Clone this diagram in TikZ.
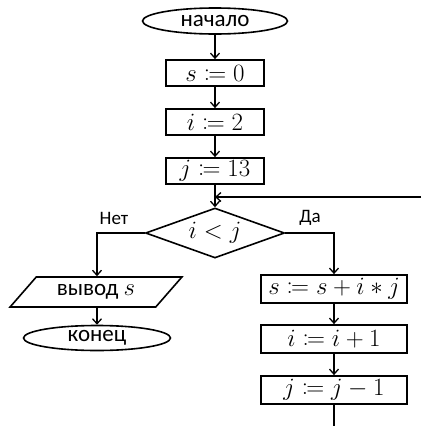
\documentclass[tikz,border=0pt]{standalone}
\usepackage{mathtools}
\usepackage{fontspec}
\setmainfont{Carlito}
\usetikzlibrary{shapes.geometric,arrows.meta}
\begin{document}
\begin{tikzpicture}[x=1pt,y=-1pt,
  every node/.style={inner sep=0pt, font=\fontsize{23}{25}\selectfont},
  mth/.style={font=\fontsize{25}{27}\selectfont},
  term/.style={ellipse, draw, line width=1.6pt},
  proc/.style={rectangle, draw, line width=1.8pt, mth},
  cond/.style={diamond, draw, line width=1.6pt, minimum width=139pt, minimum height=50pt, aspect=2.78, mth},
  io/.style={trapezium, trapezium left angle=41, trapezium right angle=139, trapezium stretches=true, draw, line width=1.6pt},
  conn/.style={line width=1.3pt},
  arr/.style={conn, -{Straight Barb[length=5pt,width=9pt]}},
  lbl/.style={font=\fontsize{19}{21}\selectfont}]
\useasboundingbox (0,0) rectangle (421,426);
\node[term, minimum width=145pt, minimum height=26pt] (start) at (215,21) {начало};
\node[proc, minimum width=98pt, minimum height=26pt] (s0) at (215,73) {$s \coloneqq 0$};
\node[proc, minimum width=98pt, minimum height=26pt] (i0) at (215,122) {$i \coloneqq 2$};
\node[proc, minimum width=98pt, minimum height=26pt] (j0) at (215,171) {$j \coloneqq 13$};
\coordinate (join) at (215,197);
\coordinate (loopin) at (421,197);
\node[cond] (cmp) at (215,233) {$i < j$};
\node[lbl] (no) at (114,218) {Нет};
\node[lbl] (yes) at (310,218) {Да};
\node[io, minimum width=172pt, minimum height=30pt] (out) at (96,292) {вывод {\fontsize{25}{27}\selectfont$s$}};
\node[term, minimum width=147pt, minimum height=25pt] (stop) at (97,338) {конец};
\node[proc, minimum width=146pt, minimum height=28pt] (s1) at (334,289) {$s \coloneqq s + i * j$};
\node[proc, minimum width=146pt, minimum height=28pt] (i1) at (334,339) {$i \coloneqq i + 1$};
\node[proc, minimum width=146pt, minimum height=28pt] (j1) at (334,390) {$j \coloneqq j - 1$};
\coordinate (down) at (334,426);
\draw[arr] (start) -- (s0);
\draw[arr] (s0) -- (i0);
\draw[arr] (i0) -- (j0);
\draw[arr] (j0) -- (cmp.north);
\draw[arr] (loopin) -- (join);
\draw[arr] (cmp.west) -| (out.north -| stop.north);
\draw[arr] (out.south -| stop.north) -- (stop);
\draw[arr] (cmp.east) -| (s1.north);
\draw[arr] (s1) -- (i1);
\draw[arr] (i1) -- (j1);
\draw[conn] (j1) -- (down);
\end{tikzpicture}
\end{document}
